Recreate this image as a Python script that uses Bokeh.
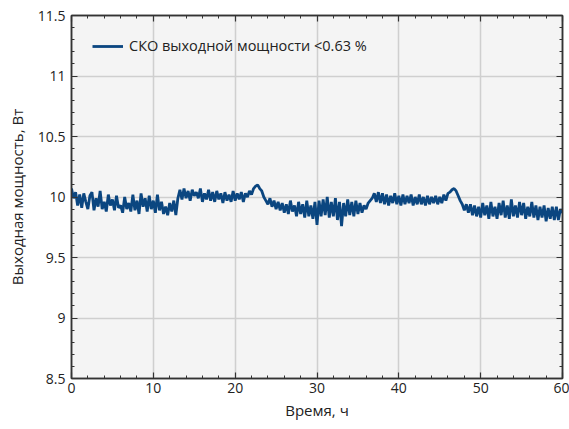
from bokeh.plotting import figure
from bokeh.models import (LinearAxis, FixedTicker, Range1d, Legend, LegendItem,
                          Grid, CustomJSTickFormatter)
from bokeh.embed import file_html
from bokeh.resources import INLINE

seg_a = [10.07, 9.99, 10.04, 9.93, 10.02, 9.91, 10.03, 9.96, 9.90, 10.01,
         10.04, 9.89, 9.99, 9.92, 10.05, 9.90, 9.96, 9.88, 10.02, 9.93,
         9.98, 9.89, 10.01, 9.91, 9.93, 9.87, 10.00, 9.90, 9.95, 9.88,
         10.02, 9.89, 9.97, 9.86, 10.03, 9.92, 9.99, 9.88, 10.01, 9.90,
         9.97, 9.87, 10.02, 9.89, 9.96, 9.86, 9.92, 9.85, 9.95, 9.88,
         9.97, 9.85, 9.99]
seg_b = [10.06, 9.98, 10.07, 9.99, 10.05, 9.97, 10.06, 10.01, 10.04, 9.99,
         10.07, 9.96, 10.03, 9.98, 10.06, 9.97, 10.04, 9.96, 10.05, 9.98,
         10.03, 9.95, 10.04, 9.97, 10.02, 9.96, 10.05, 9.97, 10.03, 9.98,
         10.04, 9.96, 10.03, 10.00, 10.05, 10.02]
seg_c = [10.07, 10.09, 10.10, 10.07, 10.05, 10.00, 9.97, 9.94, 9.99, 9.92,
         9.97, 9.90]
seg_d = [9.96, 9.89, 9.95, 9.87, 9.94, 9.86, 9.97, 9.88, 9.93, 9.84,
         9.96, 9.86, 9.94, 9.83, 9.97, 9.84, 9.93, 9.82, 9.96, 9.77,
         9.97, 9.84, 9.98, 9.85, 10.00, 9.83, 9.96, 9.84, 9.99, 9.81,
         9.96, 9.76, 9.95, 9.84, 9.98, 9.85, 9.96, 9.84, 9.97, 9.86,
         9.95, 9.87, 9.93, 9.90, 9.95, 9.97]
seg_e = [9.99, 10.03, 9.96, 10.04, 9.95, 10.03, 9.94, 10.02, 9.93, 10.01,
         9.95, 10.03, 9.94, 10.01, 9.93, 10.02, 9.94, 10.01, 9.95, 10.02,
         9.93, 10.00, 9.94, 10.02, 9.94, 10.00, 9.93, 10.01, 9.94, 10.00,
         9.95, 10.01, 9.94, 10.00, 9.95, 10.02, 9.97, 10.03]
seg_f = [10.04, 10.06, 10.07, 10.05, 10.01, 9.97, 9.94, 9.89, 9.94, 9.87]
seg_g = [9.94, 9.85, 9.93, 9.84, 9.92, 9.83, 9.95, 9.85, 9.93, 9.82,
         9.96, 9.84, 9.92, 9.82, 9.95, 9.85, 9.97, 9.83, 9.93, 9.82,
         9.98, 9.84, 9.93, 9.83, 9.96, 9.85, 9.95, 9.82, 9.92, 9.84,
         9.96, 9.83, 9.93, 9.81, 9.92, 9.83, 9.93, 9.80, 9.91, 9.82,
         9.92, 9.81, 9.92, 9.81, 9.90, 9.87]
power = seg_a + seg_b + seg_c + seg_d + seg_e + seg_f + seg_g
step_h = 0.25
time_h = [i * step_h for i in range(len(power))]

x_ticks = [0, 10, 20, 30, 40, 50, 60]
x_minor = [2, 4, 6, 8, 12, 14, 16, 18, 22, 24, 26, 28, 32, 34, 36, 38,
           42, 44, 46, 48, 52, 54, 56, 58]
y_ticks = [8.5, 9, 9.5, 10, 10.5, 11, 11.5]
y_labels = ["8.5", "9", "9.5", "10", "10.5", "11", "11.5"]
y_minor = [round(8.5 + 0.1 * i, 1) for i in range(31)]

legend_label = "СКО выходной мощности <0.63 %"
x_title = "Время, ч"
y_title = "Выходная мощность, Вт"

FONT = "Open Sans"
LINE_COLOR = "#0b4680"

p = figure(width=569, height=429, output_backend="svg", toolbar_location=None,
           x_range=Range1d(0, 60), y_range=Range1d(8.5, 11.5),
           min_border_left=71, min_border_right=7, min_border_top=15,
           min_border_bottom=51, x_axis_location=None, y_axis_location=None)
p.background_fill_color = "#f4f4f4"
p.border_fill_color = "white"
p.outline_line_color = "#333333"
p.outline_line_width = 1.5

r = p.line(time_h, power, line_color=LINE_COLOR, line_width=2.8)


def style_axis(ax, show_labels):
    ax.major_tick_in = 6
    ax.major_tick_out = 0
    ax.minor_tick_in = 3
    ax.minor_tick_out = 0
    ax.axis_line_color = "#333333"
    ax.axis_line_width = 1.5
    ax.major_tick_line_color = "#333333"
    ax.minor_tick_line_color = "#333333"
    ax.major_tick_line_width = 1.2
    ax.minor_tick_line_width = 1.0
    if show_labels:
        ax.major_label_text_font = FONT
        ax.major_label_text_font_size = "14px"
        ax.major_label_text_color = "#222222"
        ax.axis_label_text_font = FONT
        ax.axis_label_text_font_size = "15px"
        ax.axis_label_text_font_style = "normal"
        ax.axis_label_text_color = "#222222"
    else:
        ax.formatter = CustomJSTickFormatter(code="return '';")
        ax.major_label_standoff = 0


xt = FixedTicker(ticks=x_ticks, minor_ticks=x_minor)
yt = FixedTicker(ticks=y_ticks, minor_ticks=y_minor)

bottom = LinearAxis(ticker=xt, axis_label=x_title)
style_axis(bottom, True)
bottom.major_label_standoff = 4
bottom.axis_label_standoff = 4
top = LinearAxis(ticker=xt)
style_axis(top, False)
left = LinearAxis(ticker=yt, axis_label=y_title)
style_axis(left, True)
left.major_label_overrides = {t: s for t, s in zip(y_ticks, y_labels)}
left.major_label_standoff = 6
left.axis_label_standoff = 8
right = LinearAxis(ticker=yt)
style_axis(right, False)

p.add_layout(bottom, "below")
p.add_layout(left, "left")
p.add_layout(top, "above")
p.add_layout(right, "right")

p.xgrid.visible = False
p.ygrid.visible = False
p.add_layout(Grid(dimension=0, ticker=xt, grid_line_color="#cfcfcf", grid_line_width=1.5))
p.add_layout(Grid(dimension=1, ticker=yt, grid_line_color="#cfcfcf", grid_line_width=1.5))

legend = Legend(items=[LegendItem(label=legend_label, renderers=[r])],
                location="top_left", background_fill_alpha=0,
                border_line_alpha=0, label_text_font=FONT,
                label_text_font_size="14.5px", label_text_color="#222222",
                glyph_width=31, glyph_height=14, label_height=14,
                label_standoff=6, margin=15, padding=6)
p.add_layout(legend)

open("out.html", "w").write(file_html(p, INLINE))
